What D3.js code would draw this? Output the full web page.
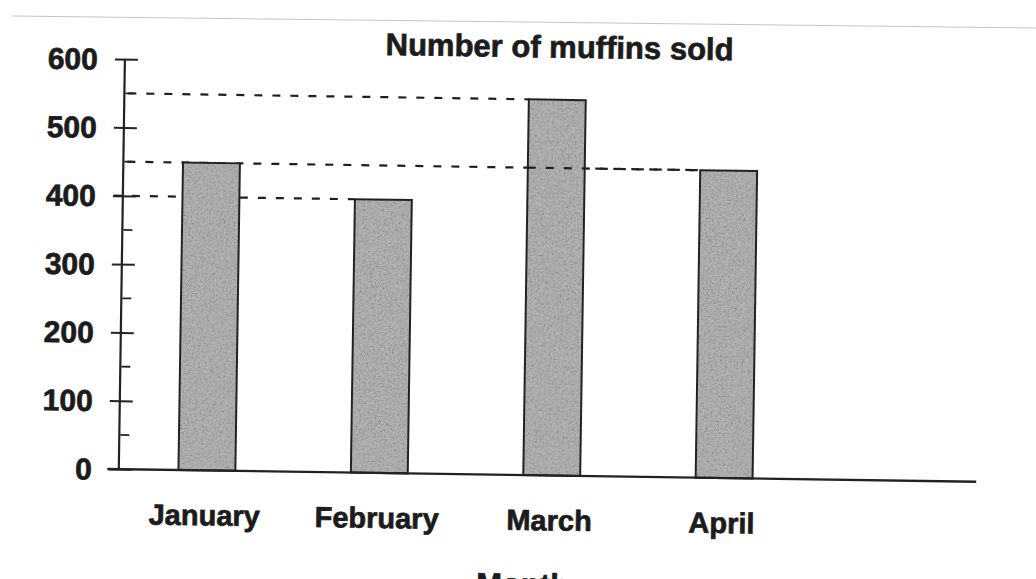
<!DOCTYPE html>
<html>
<head>
<meta charset="utf-8">
<script src="https://cdn.jsdelivr.net/npm/d3@7/dist/d3.min.js"></script>
<style>
  html, body { margin: 0; padding: 0; background: #ffffff; }
  svg { display: block; }
  text { font-family: "Liberation Sans", Arial, Helvetica, sans-serif; font-weight: bold; fill: #1c1c1c; stroke: #1c1c1c; stroke-width: 0.7px; }
</style>
</head>
<body>
<svg id="chart" width="1036" height="579"></svg>
<script>
// ---- data ----
const months = ["January", "February", "March", "April"];
const muffinsSold = [450, 400, 550, 450];
const yTickValues = [0, 100, 200, 300, 400, 500, 600];
const yMinorTickValues = [50, 150, 250, 350, 450, 550];
const referenceLines = [
  { value: 550, month: "March" },
  { value: 450, month: "April" },
  { value: 400, month: "February" }
];
const chartTitle = "Number of muffins sold";
const xAxisTitle = "Month";

// ---- layout ----
const axisX = 121.5;
const yBase = 475, yTop = 65;

const svg = d3.select("#chart");

// grain filter for the scanned-looking bar fill
const defs = svg.append("defs");
const f = defs.append("filter").attr("id", "grain")
  .attr("x", "0").attr("y", "0").attr("width", "100%").attr("height", "100%");
f.append("feTurbulence").attr("type", "fractalNoise").attr("baseFrequency", "0.6")
  .attr("numOctaves", 3).attr("seed", 7).attr("result", "noise");
f.append("feColorMatrix").attr("in", "noise").attr("type", "saturate").attr("values", 0).attr("result", "gray");
const ct = f.append("feComponentTransfer").attr("in", "gray").attr("result", "contrast");
["feFuncR", "feFuncG", "feFuncB"].forEach(n =>
  ct.append(n).attr("type", "linear").attr("slope", 1.6).attr("intercept", 0.1));
ct.append("feFuncA").attr("type", "table").attr("tableValues", "1 1");
f.append("feBlend").attr("in", "SourceGraphic").attr("in2", "contrast").attr("mode", "multiply").attr("result", "mixed");
f.append("feComposite").attr("in", "mixed").attr("in2", "SourceGraphic").attr("operator", "in");

// faint scan edge line at the top
svg.append("line")
  .attr("x1", 12).attr("y1", 16).attr("x2", 1036).attr("y2", 28)
  .attr("stroke", "#c4c4c4").attr("stroke-width", 1);

const g = svg.append("g").attr("transform", "rotate(0.85, 518, 290)");

const y = d3.scaleLinear().domain([0, 600]).range([yBase, yTop]);
const x = d3.scaleBand().domain(months).range([axisX, 815])
  .paddingInner(0.67).paddingOuter(0.346);

const dashStyle = sel => sel
  .attr("stroke", "#1e1e1e")
  .attr("stroke-width", 2.2)
  .attr("stroke-dasharray", "8,10");

// reference dashed lines
g.append("g").selectAll("line")
  .data(referenceLines)
  .join("line")
  .attr("x1", d => d.value === 400 ? axisX - 9 : axisX + 4)
  .attr("x2", d => x(d.month))
  .attr("y1", d => y(d.value))
  .attr("y2", d => y(d.value))
  .call(dashStyle);

// bars
const data = months.map((m, i) => ({ month: m, value: muffinsSold[i] }));
const bars = g.append("g");
bars.selectAll("rect.fill")
  .data(data)
  .join("rect")
  .attr("class", "fill")
  .attr("x", d => x(d.month))
  .attr("y", d => y(d.value))
  .attr("width", x.bandwidth())
  .attr("height", d => yBase - y(d.value))
  .attr("fill", "#b4b4b4")
  .attr("filter", "url(#grain)");
bars.selectAll("rect.edge")
  .data(data)
  .join("rect")
  .attr("class", "edge")
  .attr("x", d => x(d.month))
  .attr("y", d => y(d.value))
  .attr("width", x.bandwidth())
  .attr("height", d => yBase - y(d.value))
  .attr("fill", "none")
  .attr("stroke", "#222222")
  .attr("stroke-width", 2);

// the 450 line passes over the March bar in the reference
g.append("g").selectAll("line")
  .data(referenceLines.filter(d => d.month === "April"))
  .join("line")
  .attr("x1", x("March"))
  .attr("x2", x("April"))
  .attr("y1", d => y(d.value))
  .attr("y2", d => y(d.value))
  .call(dashStyle);

// y axis
const yAxis = d3.axisLeft(y)
  .tickValues(yTickValues)
  .tickSize(10)
  .tickPadding(17)
  .tickFormat(d3.format("d"));
const ya = g.append("g").attr("transform", `translate(${axisX},0)`).call(yAxis);
ya.select(".domain").attr("stroke", "#222").attr("stroke-width", 2.2)
  .attr("d", `M0,${y(600)}V${yBase}`);
ya.selectAll(".tick line").attr("stroke", "#222").attr("stroke-width", 2)
  .attr("x1", 13).attr("x2", -10);
ya.selectAll(".tick text")
  .style("font-size", "30px")
  .attr("fill", "#1c1c1c")
  .attr("dy", "0.34em");

// minor ticks (right side only)
ya.append("g").selectAll("line")
  .data(yMinorTickValues)
  .join("line")
  .attr("x1", 1).attr("x2", 10)
  .attr("y1", d => y(d)).attr("y2", d => y(d))
  .attr("stroke", "#222").attr("stroke-width", 1.8);

// x axis line
g.append("line")
  .attr("x1", 110).attr("x2", 979)
  .attr("y1", yBase).attr("y2", yBase)
  .attr("stroke", "#222").attr("stroke-width", 2.4);

// month labels
g.append("g").selectAll("text")
  .data(months)
  .join("text")
  .attr("x", d => x(d) + x.bandwidth() / 2 - 2)
  .attr("y", yBase + 55)
  .attr("text-anchor", "middle")
  .style("font-size", "29px")
  .text(d => d);

// title
g.append("text")
  .attr("x", 556).attr("y", 57)
  .attr("text-anchor", "middle")
  .style("font-size", "31px")
  .text(chartTitle);

// x-axis title (cut off at the bottom, as in the reference)
g.append("text")
  .attr("x", 527).attr("y", 595)
  .attr("text-anchor", "middle")
  .style("font-size", "31px")
  .text(xAxisTitle);
</script>
</body>
</html>
